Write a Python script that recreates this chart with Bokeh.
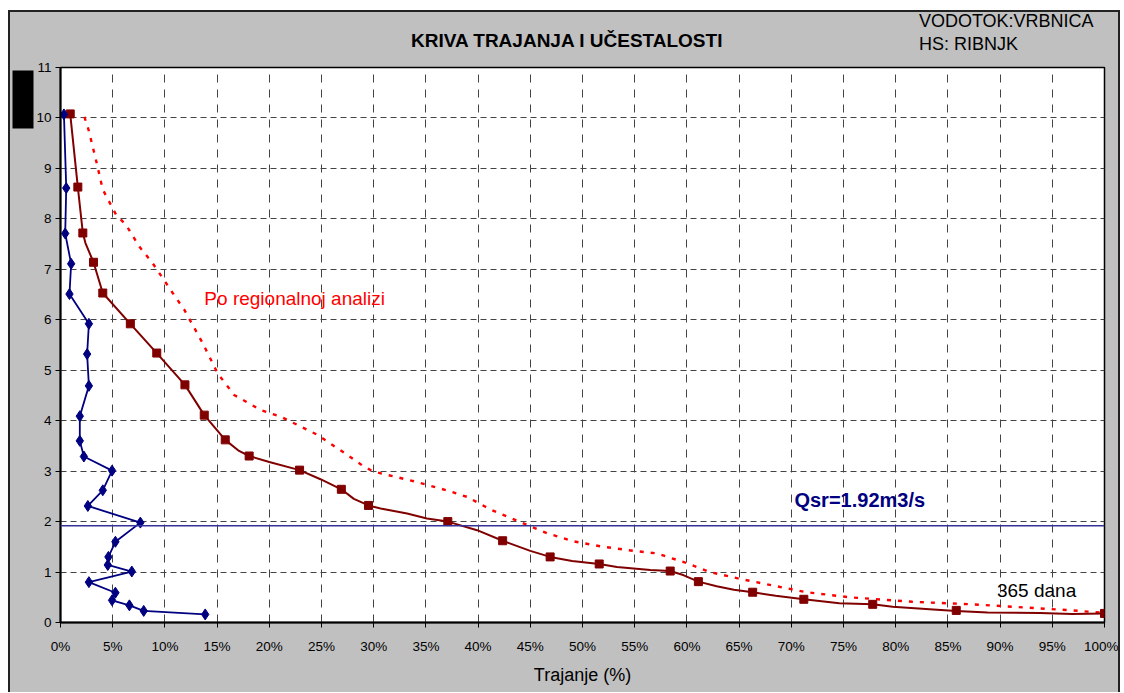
from bokeh.plotting import figure
from bokeh.layouts import column
from bokeh.models import Range1d, FixedTicker, PrintfTickFormatter, Span, Label, Title
from bokeh.core.properties import value
from bokeh.embed import file_html
from bokeh.resources import INLINE

# ---- data ----
blue_x = [0.33, 0.55, 0.45, 1.02, 0.86, 2.72, 2.55, 2.72, 1.85, 1.85, 2.24, 4.94, 4.05, 2.62,
          7.65, 5.26, 4.59, 4.53, 6.83, 2.72, 5.26, 4.94, 6.60, 7.97, 13.86]
blue_y = [10.07, 8.61, 7.71, 7.11, 6.51, 5.92, 5.32, 4.69, 4.09, 3.60, 3.29, 3.01, 2.62, 2.31,
          1.98, 1.60, 1.30, 1.14, 1.01, 0.80, 0.59, 0.44, 0.34, 0.23, 0.16]

red_line_x = [0.93, 1.66, 2.14, 2.39, 3.16, 4.05, 6.69, 9.22, 11.92, 13.77, 15.78, 17.1, 18.07, 20.0,
              22.9, 24.9, 26.9, 28.1, 29.5, 30.66, 33.2, 35.1, 37.1, 39.9, 42.35, 45.0, 46.9, 49.0,
              51.6, 53.3, 56.5, 58.4, 59.65, 61.1, 62.85, 64.5, 66.3, 68.5, 71.2, 74.6, 77.8, 79.7,
              83.6, 85.8, 88.8, 93.8, 96.9, 100.0]
red_line_y = [10.08, 8.63, 7.72, 7.52, 7.14, 6.53, 5.92, 5.34, 4.71, 4.11, 3.62, 3.40, 3.30, 3.18,
              3.02, 2.84, 2.64, 2.45, 2.32, 2.26, 2.16, 2.06, 2.00, 1.83, 1.62, 1.42, 1.30, 1.22,
              1.16, 1.10, 1.04, 1.02, 0.94, 0.81, 0.72, 0.65, 0.60, 0.53, 0.46, 0.38, 0.36, 0.31,
              0.26, 0.23, 0.20, 0.19, 0.17, 0.18]

red_mark_x = [0.93, 1.66, 2.14, 3.16, 4.05, 6.69, 9.22, 11.92, 13.77, 15.78, 18.07, 22.9, 26.9,
              29.5, 37.1, 42.35, 46.9, 51.6, 58.4, 61.1, 66.3, 71.2, 77.8, 85.8, 100.0]
red_mark_y = [10.08, 8.63, 7.72, 7.14, 6.53, 5.92, 5.34, 4.71, 4.11, 3.62, 3.30, 3.02, 2.64,
              2.32, 2.00, 1.62, 1.30, 1.16, 1.02, 0.81, 0.60, 0.46, 0.36, 0.24, 0.18]

reg_x = [2.29, 2.68, 3.35, 4.05, 5.33, 6.28, 7.55, 8.83, 10.75, 11.85, 13.61, 15.05, 16.63, 19.19,
         21.1, 24.6, 27.2, 29.06, 30.0, 33.84, 37.0, 38.95, 41.18, 43.6, 46.6, 49.1, 51.7, 54.9,
         57.1, 59.66, 62.2, 65.2, 68.3, 71.45, 75.6, 81.6, 87.4, 93.8, 96.9, 100.0]
reg_y = [10.02, 9.77, 9.21, 8.58, 8.08, 7.88, 7.45, 7.12, 6.53, 6.20, 5.54, 4.94, 4.51, 4.21,
         4.08, 3.72, 3.36, 3.09, 2.99, 2.80, 2.62, 2.49, 2.24, 2.03, 1.77, 1.61, 1.51, 1.42,
         1.37, 1.20, 1.00, 0.86, 0.73, 0.60, 0.50, 0.41, 0.36, 0.28, 0.24, 0.19]

q_sr = 1.92
x_ticks = list(range(0, 101, 5))
y_ticks = list(range(0, 12))

title_text = "KRIVA TRAJANJA I UČESTALOSTI"
info1 = "VODOTOK:VRBNICA"
info2 = "HS: RIBNJK"
y_label = "Q (m3/s)"
x_label = "Trajanje (%)"
reg_label = "Po regionalnoj analizi"
qsr_label = "Qsr=1.92m3/s"
days_label = "365 dana"

FONT = "Liberation Sans"
GRAY = "#C0C0C0"
W = 1108
HEAD_H = 45

# ---- header strip (title and station info) ----
head = figure(width=W, height=HEAD_H, output_backend="svg", toolbar_location=None,
              x_range=Range1d(0, W), y_range=Range1d(0, HEAD_H), min_border=0)
head.axis.visible = False
head.grid.visible = False
head.outline_line_color = None
head.background_fill_color = GRAY
head.border_fill_color = GRAY
head.text(x=[372], y=[HEAD_H - 28], text=[title_text], text_font=value(FONT),
          text_font_size=value("19px"), text_font_style="bold", text_color="black",
          text_baseline="middle", text_align="left")
head.text(x=[911, 911], y=[HEAD_H - 8, HEAD_H - 31], text=[info1, info2], text_font=value(FONT),
          text_font_size=value("18px"), text_color="black", text_baseline="middle", text_align="left")

# ---- main chart ----
p = figure(width=W, height=635, output_backend="svg", toolbar_location=None,
           x_range=Range1d(0, 100), y_range=Range1d(0, 11),
           min_border_left=49, min_border_right=14, min_border_top=10, min_border_bottom=70)
p.border_fill_color = GRAY
p.background_fill_color = "white"
p.outline_line_color = "black"
p.outline_line_width = 1.5

for ax in (p.xaxis, p.yaxis):
    ax.axis_line_color = "black"
    ax.axis_line_width = 2
    ax.major_tick_line_color = "black"
    ax.major_tick_line_width = 1
    ax.major_tick_out = 5
    ax.major_tick_in = 0
    ax.minor_tick_line_color = None
    ax.major_label_text_font = FONT
    ax.major_label_text_font_size = "13.5px"
    ax.major_label_text_color = "black"

p.xaxis.ticker = FixedTicker(ticks=x_ticks)
p.yaxis.ticker = FixedTicker(ticks=y_ticks)
p.xaxis.formatter = PrintfTickFormatter(format="%d%%")
p.xaxis.major_label_standoff = 11
p.yaxis.major_label_standoff = 4
p.xaxis.axis_label = x_label
p.xaxis.axis_label_text_font = FONT
p.xaxis.axis_label_text_font_style = "normal"
p.xaxis.axis_label_text_font_size = "18px"
p.xaxis.axis_label_text_color = "black"
p.xaxis.axis_label_standoff = 8

# y axis title, shown as a black box in the reference
p.add_layout(Title(text=y_label, align="right", offset=3, text_font=FONT, text_font_size="13px",
                   text_color="black", background_fill_color="black", padding=3, standoff=0),
             "left")

p.xgrid.grid_line_color = "#444444"
p.xgrid.grid_line_dash = "8 7"
p.ygrid.grid_line_color = "#444444"
p.ygrid.grid_line_dash = "6 4"

# regional dotted curve
p.line(reg_x, reg_y, line_color="#FF0000", line_width=2.4, line_dash="4 7")

# mean flow line
p.add_layout(Span(location=q_sr, dimension="width", line_color="#333399", line_width=1.5))

# observed curves
p.line(red_line_x, red_line_y, line_color="#800000", line_width=2)
p.scatter(red_mark_x, red_mark_y, marker="square", size=8, fill_color="#800000", line_color="#800000")
p.line(blue_x, blue_y, line_color="#000080", line_width=1.8)
p.scatter(blue_x, blue_y, marker="diamond", size=11, fill_color="#000080", line_color="#000080")

# texts inside the plot
p.add_layout(Label(x=13.78, y=6.43, text=reg_label, text_font=FONT, text_font_size="19px",
                   text_color="#FF0000", text_baseline="middle"))
p.add_layout(Label(x=70.3, y=2.43, text=qsr_label, text_font=FONT, text_font_size="20px",
                   text_font_style="bold", text_color="#000080", text_baseline="middle"))
p.add_layout(Label(x=89.7, y=0.64, text=days_label, text_font=FONT, text_font_size="19px",
                   text_color="black", text_baseline="middle"))

layout = column(head, p, styles={"margin-left": "8px", "margin-top": "10px",
                                 "border": "2px solid #222", "border-bottom": "none",
                                 "background-color": GRAY})

open("out.html", "w").write(file_html(layout, INLINE))
